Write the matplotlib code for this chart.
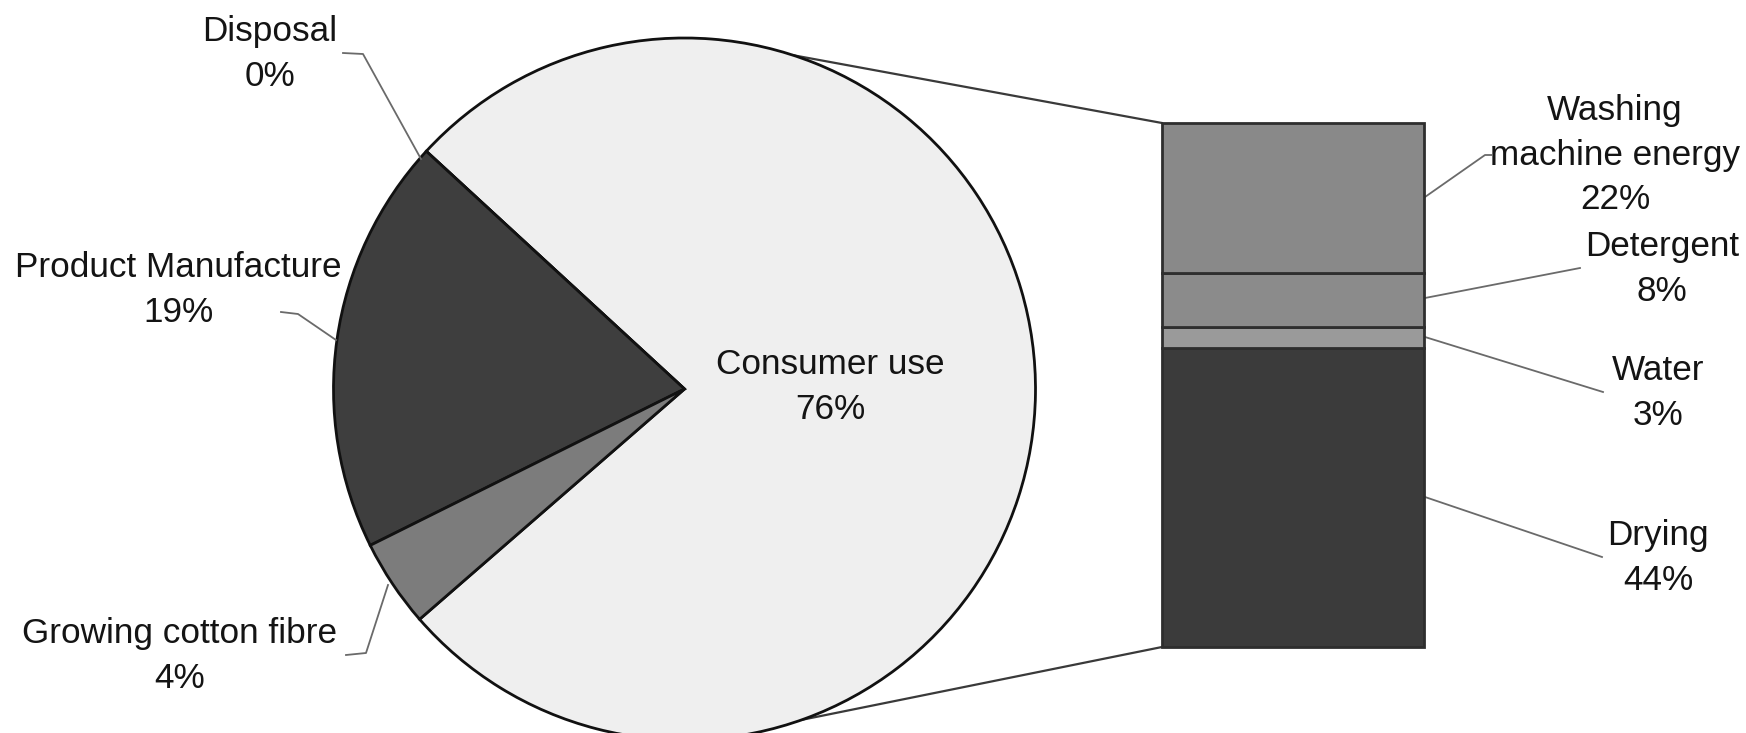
import matplotlib
matplotlib.use("Agg")
import matplotlib.pyplot as plt
import numpy as np

# ---- data ----
pie_labels = ["Consumer use", "Disposal", "Product Manufacture", "Growing cotton fibre"]
pie_values = [76, 0, 19, 4]
pie_colors = ["#efefef", "#efefef", "#3e3e3e", "#7c7c7c"]

bar_labels = ["Drying", "Water", "Detergent", "Washing\nmachine energy"]
bar_values = [44, 3, 8, 22]
bar_colors = ["#3b3b3b", "#9a9a9a", "#8b8b8b", "#898989"]

W, H = 1746, 733
plt.rcParams['font.family'] = ['Liberation Sans', 'DejaVu Sans']
FS = 25.3
TXT = "#141414"

def Y(y):
    return H - y

fig = plt.figure(figsize=(W / 100, H / 100), dpi=100)
ax = fig.add_axes([0, 0, 1, 1])

# pie (pixel coordinates, y up)
cx, cy, R = 684.5, Y(389), 351
wedges, _ = ax.pie(pie_values, colors=pie_colors, startangle=-139, counterclock=True,
                   center=(cx, cy), radius=R, frame=True,
                   wedgeprops=dict(edgecolor="#111111", linewidth=2.0))
ax.set_xlim(0, W)
ax.set_ylim(0, H)
ax.set_axis_off()

# bar (its own axes, stacked)
bx0, by_top, by_bot, bx1 = 1162, 123, 647, 1424
axb = fig.add_axes([bx0 / W, Y(by_bot) / H, (bx1 - bx0) / W, (by_bot - by_top) / H])
bottom = 0
for v, c in zip(bar_values, bar_colors):
    axb.bar(0, v, bottom=bottom, width=1.0, color=c, edgecolor="#2e2e2e",
            linewidth=2.0, clip_on=False)
    bottom += v
axb.set_xlim(-0.5, 0.5)
axb.set_ylim(0, sum(bar_values))
axb.set_axis_off()

# connector lines between pie and bar
def pie_pt(angle_deg):
    a = np.deg2rad(angle_deg)
    return cx + R * np.cos(a), cy + R * np.sin(a)

p_top = pie_pt(72)
p_bot = pie_pt(-70.5)
ax.plot([p_top[0], bx0], [p_top[1], Y(by_top)], color="#3a3a3a", lw=1.6, zorder=0)
ax.plot([p_bot[0], bx0], [p_bot[1], Y(by_bot)], color="#3a3a3a", lw=1.6, zorder=0)

# labels
lead_kw = dict(color="#6a6a6a", lw=1.3, zorder=3)
ts = dict(fontsize=FS, color=TXT, ha="center", va="center", linespacing=1.45)

ax.text(270, Y(54), f"{pie_labels[1]}\n{pie_values[1]}%", **ts)
ax.plot([343, 363, 421], [Y(53), Y(54), Y(159)], **lead_kw)

ax.text(178, Y(290), f"{pie_labels[2]}\n{pie_values[2]}%", **ts)
ax.plot([281, 298, 336], [Y(312), Y(314), Y(340)], **lead_kw)

ax.text(180, Y(656), f"{pie_labels[3]}\n{pie_values[3]}%", **ts)
ax.plot([346, 366, 388], [Y(655), Y(653), Y(585)], **lead_kw)

ax.text(830, Y(387), f"{pie_labels[0]}\n{pie_values[0]}%", **ts)

# bar labels (top to bottom)
ax.text(1615, Y(155), f"{bar_labels[3]}\n{bar_values[3]}%", **ts)
ax.plot([1425, 1485, 1492], [Y(197), Y(155), Y(155)], **lead_kw)

ax.text(1662, Y(269), f"{bar_labels[2]}\n{bar_values[2]}%", **ts)
ax.plot([1425, 1580], [Y(298), Y(268)], **lead_kw)

ax.text(1658, Y(393), f"{bar_labels[1]}\n{bar_values[1]}%", **ts)
ax.plot([1425, 1603], [Y(337), Y(392)], **lead_kw)

ax.text(1658, Y(558), f"{bar_labels[0]}\n{bar_values[0]}%", **ts)
ax.plot([1425, 1602], [Y(497), Y(557)], **lead_kw)

fig.savefig("out.png", dpi=100, facecolor="white")
